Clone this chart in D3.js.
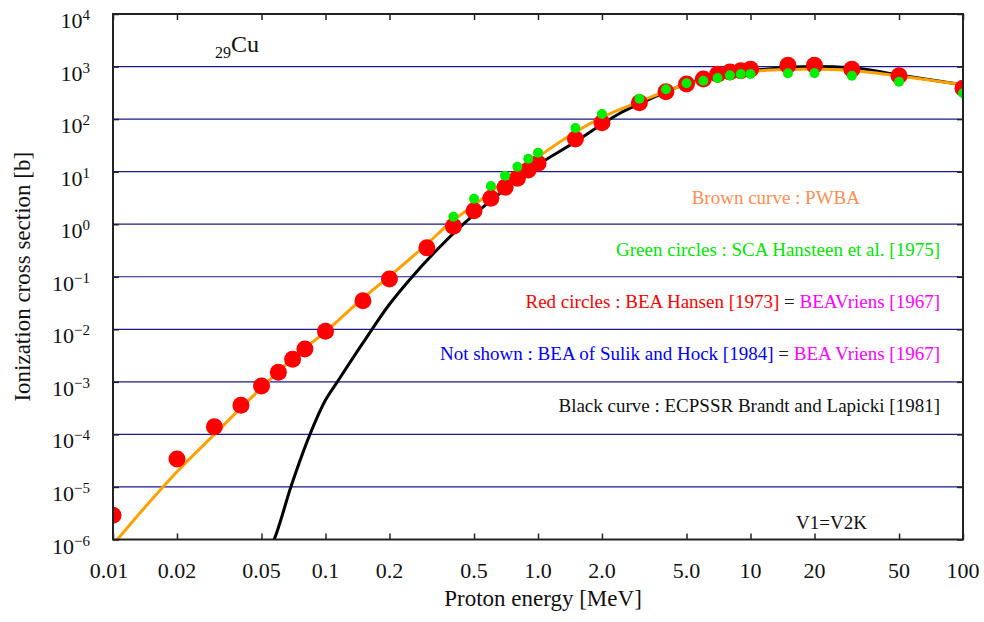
<!DOCTYPE html>
<html>
<head>
<meta charset="utf-8">
<script src="https://cdn.jsdelivr.net/npm/d3@7/dist/d3.min.js"></script>
<style>
  html, body { margin: 0; padding: 0; background: #fff; }
  svg { display: block; font-family: "Liberation Serif", "Times New Roman", serif; }
</style>
</head>
<body>
<svg id="chart" width="984" height="622"></svg>
<script>
// K-shell ionization cross sections of 29Cu by protons

// Axis ticks
const xTickValues = [0.01, 0.02, 0.05, 0.1, 0.2, 0.5, 1, 2, 5, 10, 20, 50, 100];
const xTickLabels = ["0.01", "0.02", "0.05", "0.1", "0.2", "0.5", "1.0", "2.0", "5.0", "10", "20", "50", "100"];
const yTickExponents = [-6, -5, -4, -3, -2, -1, 0, 1, 2, 3, 4];

// Red circles: BEA Hansen [1973]
const redEnergy = [0.01, 0.02, 0.03, 0.04, 0.05, 0.06, 0.07, 0.08, 0.1, 0.15, 0.2, 0.3, 0.4, 0.5, 0.6, 0.7, 0.8, 0.9, 1.0,
  1.5, 2, 3, 4, 5, 6, 7, 8, 9, 10, 15, 20, 30, 50, 100];
const redSigma = [2.9e-6, 3.4e-5, 1.4e-4, 3.6e-4, 8.3e-4, 1.52e-3, 2.68e-3, 4.2e-3, 9.2e-3, 3.5e-2, 9.1e-2, 0.357, 0.91, 1.81, 3.11, 5.04, 7.47, 10.7, 14.4,
  41.8, 85.5, 205, 332, 466, 580, 712, 788, 834, 886, 1057, 1057, 886, 670, 385];

// Green circles: SCA Hansteen et al. [1975]
const greenEnergy = [0.4, 0.5, 0.6, 0.7, 0.8, 0.9, 1.0, 1.5, 2, 3, 4, 5, 6, 7, 8, 9, 10, 15, 20, 30, 50, 100];
const greenSigma = [1.39, 3.05, 5.33, 8.4, 12.4, 17.6, 23, 67.7, 125, 244, 369, 480, 538, 605, 680, 722, 722, 743, 750, 670, 515, 310];

// PWBA curve
const pwbaEnergy = [0.01, 0.02, 0.03, 0.04, 0.05, 0.07, 0.1, 0.15, 0.2, 0.3, 0.4, 0.5, 0.7, 1.0, 1.5, 2, 3, 5, 7, 10, 15, 20, 30, 50, 100];
const pwbaSigma = [8e-7, 1.95e-5, 1.0e-4, 3.2e-4, 7.7e-4, 2.8e-3, 9e-3, 3.9e-2, 0.102, 0.42, 1.2, 2.3, 6.8, 19, 57, 108, 214, 460, 640, 800, 880, 900, 840, 660, 450];

// ECPSSR curve (Brandt and Lapicki)
const ecpssrEnergy = [0.055, 0.0573, 0.0687, 0.0845, 0.1, 0.1137, 0.15, 0.2, 0.25, 0.334, 0.445, 0.6, 0.8, 1.0, 1.5, 2, 2.43, 3, 5, 10, 15, 20, 30, 50, 100];
const ecpssrSigma = [7e-7, 1e-6, 1e-5, 1e-4, 4.5e-4, 1.0e-3, 5.5e-3, 3.0e-2, 0.09, 0.323, 1.0, 2.8, 7.0, 13.5, 37, 80, 129, 195, 470, 830, 960, 1000, 950, 690, 450];

const svg = d3.select("#chart");
const plot = { left: 113, right: 963, top: 14, bottom: 539.5 };

const x = d3.scaleLog().domain([0.01, 100]).range([plot.left, plot.right]);
const y = d3.scaleLog().domain([1e-6, 1e4]).range([plot.bottom, plot.top]);

svg.append("rect").attr("width", 984).attr("height", 622).attr("fill", "#fff");

svg.append("defs").append("clipPath").attr("id", "plot-clip")
  .append("rect")
  .attr("x", plot.left).attr("y", plot.top)
  .attr("width", plot.right - plot.left).attr("height", plot.bottom - plot.top);

// Horizontal grid at every decade inside the frame
svg.append("g")
  .selectAll("line")
  .data(yTickExponents.filter(e => e > -6 && e < 4))
  .join("line")
  .attr("x1", plot.left).attr("x2", plot.right)
  .attr("y1", e => y(Math.pow(10, e))).attr("y2", e => y(Math.pow(10, e)))
  .attr("stroke", "#1a1a8a").attr("stroke-width", 1.2);

// Inward ticks on all four sides
const tickLen = 6;
const xAxisBottom = d3.axisBottom(x).tickValues(xTickValues).tickSize(-tickLen).tickFormat("");
const xAxisTop = d3.axisTop(x).tickValues(xTickValues).tickSize(-tickLen).tickFormat("");
const yVals = yTickExponents.map(e => Math.pow(10, e));
const yAxisLeft = d3.axisLeft(y).tickValues(yVals).tickSize(-tickLen).tickFormat("");
const yAxisRight = d3.axisRight(y).tickValues(yVals).tickSize(-tickLen).tickFormat("");

function styleAxis(g) {
  g.select(".domain").remove();
  g.selectAll(".tick line").attr("stroke", "#222").attr("stroke-width", 1.5);
}
svg.append("g").attr("transform", `translate(0,${plot.bottom})`).call(xAxisBottom).call(styleAxis);
svg.append("g").attr("transform", `translate(0,${plot.top})`).call(xAxisTop).call(styleAxis);
svg.append("g").attr("transform", `translate(${plot.left},0)`).call(yAxisLeft).call(styleAxis);
svg.append("g").attr("transform", `translate(${plot.right},0)`).call(yAxisRight).call(styleAxis);

// Curves
const data = (es, ss) => es.map((e, i) => ({ e, s: ss[i] }));
const line = d3.line().x(d => x(d.e)).y(d => y(d.s)).curve(d3.curveMonotoneX);
const curves = svg.append("g").attr("clip-path", "url(#plot-clip)");
curves.append("path")
  .datum(data(ecpssrEnergy, ecpssrSigma))
  .attr("d", line).attr("fill", "none")
  .attr("stroke", "#000").attr("stroke-width", 3);
curves.append("path")
  .datum(data(pwbaEnergy, pwbaSigma))
  .attr("d", line).attr("fill", "none")
  .attr("stroke", "#ffa000").attr("stroke-width", 3);

// Circles
const marks = svg.append("g").attr("clip-path", "url(#plot-clip)");
marks.selectAll("circle.red")
  .data(data(redEnergy, redSigma))
  .join("circle").attr("class", "red")
  .attr("cx", d => x(d.e)).attr("cy", d => y(d.s)).attr("r", 8.5)
  .attr("fill", "#ff0000");
marks.selectAll("circle.green")
  .data(data(greenEnergy, greenSigma))
  .join("circle").attr("class", "green")
  .attr("cx", d => x(d.e)).attr("cy", d => y(d.s)).attr("r", 5)
  .attr("fill", "#00ee00");

// Frame
svg.append("rect")
  .attr("x", plot.left).attr("y", plot.top)
  .attr("width", plot.right - plot.left).attr("height", plot.bottom - plot.top)
  .attr("fill", "none").attr("stroke", "#222").attr("stroke-width", 2);

// X tick labels
svg.append("g")
  .selectAll("text")
  .data(xTickValues)
  .join("text")
  .attr("x", (d, i) => x(d) - (i === 0 ? 4 : 0)).attr("y", 578)
  .attr("text-anchor", "middle")
  .attr("font-size", 22).attr("fill", "#111")
  .text((d, i) => xTickLabels[i]);

// Y tick labels: 10 with superscript exponent
const yLabels = svg.append("g")
  .selectAll("text")
  .data(yTickExponents)
  .join("text")
  .attr("x", 90).attr("y", e => y(Math.pow(10, e)) + 14)
  .attr("text-anchor", "end")
  .attr("font-size", 22).attr("fill", "#111");
yLabels.append("tspan").text("10");
yLabels.append("tspan")
  .attr("font-size", 15).attr("dy", -8)
  .text(e => (e < 0 ? "\u2212" + Math.abs(e) : String(e)));

// Axis titles
svg.append("text")
  .attr("x", 543).attr("y", 606)
  .attr("text-anchor", "middle").attr("font-size", 23).attr("fill", "#111")
  .text("Proton energy [MeV]");
svg.append("text")
  .attr("transform", `translate(30,${(plot.top + plot.bottom) / 2}) rotate(-90)`)
  .attr("text-anchor", "middle").attr("font-size", 23).attr("fill", "#111")
  .text("Ionization cross section [b]");

// Element label
const elem = svg.append("text").attr("x", 215).attr("y", 52).attr("fill", "#111");
elem.append("tspan").attr("font-size", 16).attr("dy", 6).text("29");
elem.append("tspan").attr("font-size", 24).attr("dy", -6).text("Cu");

// Legend notes
const notes = [
  { y: 204, anchorX: 860, parts: [["Brown curve : PWBA", "#ff8c50"]] },
  { y: 256, anchorX: 940, parts: [["Green circles : SCA Hansteen et al. [1975]", "#00e600"]] },
  { y: 308, anchorX: 940, parts: [["Red circles : BEA Hansen [1973]", "#ff0000"], [" = ", "#222"], ["BEAVriens [1967]", "#ff00ff"]] },
  { y: 360, anchorX: 940, parts: [["Not shown : BEA of Sulik and Hock [1984]", "#0000ff"], [" = ", "#222"], ["BEA Vriens [1967]", "#ff00ff"]] },
  { y: 412, anchorX: 940, parts: [["Black curve : ECPSSR Brandt and Lapicki [1981]", "#111"]] }
];
const noteText = svg.append("g")
  .selectAll("text")
  .data(notes)
  .join("text")
  .attr("x", d => d.anchorX).attr("y", d => d.y)
  .attr("text-anchor", "end").attr("font-size", 19)
  .style("white-space", "pre");
noteText.selectAll("tspan")
  .data(d => d.parts)
  .join("tspan")
  .attr("fill", p => p[1])
  .text(p => p[0]);

svg.append("text")
  .attr("x", 796).attr("y", 529)
  .attr("font-size", 19).attr("fill", "#111")
  .text("V1=V2K");
</script>
</body>
</html>
